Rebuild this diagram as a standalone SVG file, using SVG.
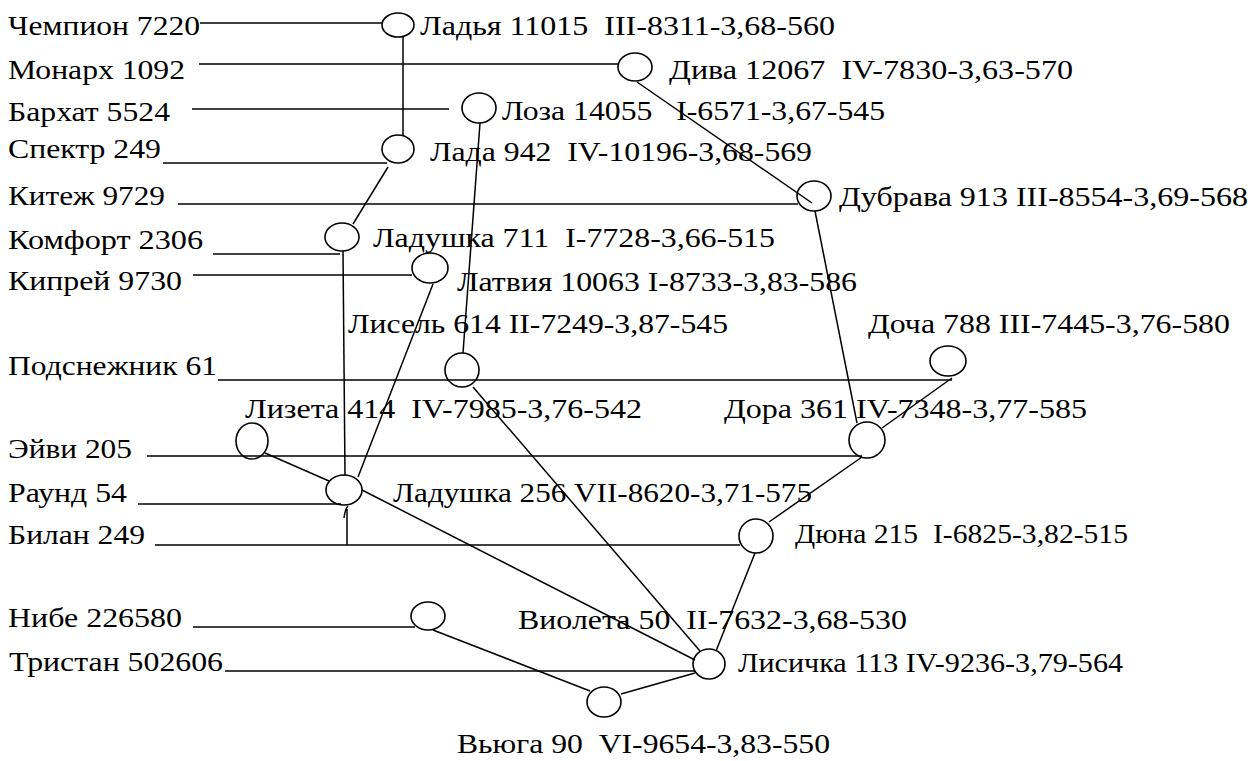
<svg xmlns="http://www.w3.org/2000/svg" width="1258" height="761" viewBox="0 0 1258 761">
<style>
text{font-family:"Liberation Serif","Times New Roman",serif;font-size:28px;fill:#000;white-space:pre}
ellipse{fill:none;stroke:#000;stroke-width:1.6}
.c line,.c path{stroke:#000;stroke-width:1.5;fill:none}
</style>
<rect width="1258" height="761" fill="#fff"/>
<g class="c" id="connectors">
<line x1="200" y1="23" x2="383" y2="23"/>
<line x1="403" y1="37" x2="403" y2="136"/>
<line x1="199" y1="64" x2="619" y2="64"/>
<line x1="192" y1="109" x2="449" y2="109"/>
<line x1="163" y1="163" x2="387" y2="163"/>
<line x1="388" y1="167" x2="353" y2="224"/>
<line x1="480" y1="123" x2="463" y2="353"/>
<line x1="637" y1="82" x2="812" y2="203"/>
<line x1="178" y1="204" x2="798" y2="204"/>
<line x1="213" y1="254" x2="340" y2="254"/>
<line x1="343" y1="251" x2="345" y2="475"/>
<line x1="193" y1="275" x2="412" y2="275"/>
<line x1="433" y1="284" x2="358" y2="477"/>
<line x1="815" y1="211" x2="857" y2="423"/>
<line x1="218" y1="380" x2="952" y2="380"/>
<line x1="952" y1="378" x2="882" y2="428"/>
<line x1="473" y1="387" x2="700" y2="651"/>
<line x1="147" y1="456" x2="862" y2="456"/>
<line x1="862" y1="457" x2="769" y2="522"/>
<line x1="265" y1="453" x2="329" y2="481"/>
<line x1="138" y1="504" x2="341" y2="504"/>
<line x1="362" y1="490" x2="695" y2="660"/>
<path d="M344 518 Q345 509 348 506 M347 509 L347 545"/>
<line x1="155" y1="545" x2="740" y2="545"/>
<line x1="755" y1="553" x2="716" y2="651"/>
<line x1="193" y1="627" x2="415" y2="627"/>
<line x1="433" y1="630" x2="590" y2="691"/>
<line x1="225" y1="671" x2="695" y2="671"/>
<line x1="621" y1="694" x2="695" y2="673"/>
</g>
<g id="n-chempion"><text x="8" y="35" textLength="192" lengthAdjust="spacingAndGlyphs">Чемпион 7220</text></g>
<g id="n-monarkh"><text x="8" y="79" textLength="177" lengthAdjust="spacingAndGlyphs">Монарх 1092</text></g>
<g id="n-barkhat"><text x="8" y="121" textLength="162" lengthAdjust="spacingAndGlyphs">Бархат 5524</text></g>
<g id="n-spektr"><text x="8" y="158" textLength="153" lengthAdjust="spacingAndGlyphs">Спектр 249</text></g>
<g id="n-kitezh"><text x="8" y="205" textLength="157" lengthAdjust="spacingAndGlyphs">Китеж 9729</text></g>
<g id="n-komfort"><text x="8" y="249" textLength="195" lengthAdjust="spacingAndGlyphs">Комфорт 2306</text></g>
<g id="n-kiprey"><text x="8" y="290" textLength="174" lengthAdjust="spacingAndGlyphs">Кипрей 9730</text></g>
<g id="n-podsnezhnik"><text x="8" y="375" textLength="209" lengthAdjust="spacingAndGlyphs">Подснежник 61</text></g>
<g id="n-eyvi"><text x="8" y="458" textLength="124" lengthAdjust="spacingAndGlyphs">Эйви 205</text></g>
<g id="n-raund"><text x="8" y="502" textLength="119" lengthAdjust="spacingAndGlyphs">Раунд 54</text></g>
<g id="n-bilan"><text x="8" y="544" textLength="137" lengthAdjust="spacingAndGlyphs">Билан 249</text></g>
<g id="n-nibe"><text x="8" y="627" textLength="174" lengthAdjust="spacingAndGlyphs">Нибе 226580</text></g>
<g id="n-tristan"><text x="9" y="671" textLength="214" lengthAdjust="spacingAndGlyphs">Тристан 502606</text></g>
<g id="n-ladya"><ellipse cx="398" cy="25" rx="16" ry="12"/><text x="420" y="35" textLength="415" lengthAdjust="spacingAndGlyphs">Ладья 11015  III-8311-3,68-560</text></g>
<g id="n-diva"><ellipse cx="635" cy="67" rx="17" ry="14"/><text x="669" y="79" textLength="404" lengthAdjust="spacingAndGlyphs">Дива 12067  IV-7830-3,63-570</text></g>
<g id="n-loza"><ellipse cx="479" cy="108" rx="17" ry="15"/><text x="502" y="120" textLength="383" lengthAdjust="spacingAndGlyphs">Лоза 14055   I-6571-3,67-545</text></g>
<g id="n-lada"><ellipse cx="398" cy="149" rx="16" ry="14"/><text x="430" y="161" textLength="382" lengthAdjust="spacingAndGlyphs">Лада 942  IV-10196-3,68-569</text></g>
<g id="n-dubrava"><ellipse cx="814" cy="196" rx="17" ry="15"/><text x="839" y="206" textLength="409" lengthAdjust="spacingAndGlyphs">Дубрава 913 III-8554-3,69-568</text></g>
<g id="n-ladushka711"><ellipse cx="342" cy="237" rx="17" ry="14"/><text x="373" y="247" textLength="402" lengthAdjust="spacingAndGlyphs">Ладушка 711  I-7728-3,66-515</text></g>
<g id="n-latviya"><ellipse cx="430" cy="268" rx="18" ry="15"/><text x="457" y="291" textLength="400" lengthAdjust="spacingAndGlyphs">Латвия 10063 I-8733-3,83-586</text></g>
<g id="n-lisel"><ellipse cx="462" cy="370" rx="17" ry="17"/><text x="348" y="333" textLength="380" lengthAdjust="spacingAndGlyphs">Лисель 614 II-7249-3,87-545</text></g>
<g id="n-docha"><ellipse cx="948" cy="361" rx="18" ry="15"/><text x="868" y="333" textLength="362" lengthAdjust="spacingAndGlyphs">Доча 788 III-7445-3,76-580</text></g>
<g id="n-lizeta"><ellipse cx="252" cy="441" rx="16" ry="18"/><text x="245" y="418" textLength="397" lengthAdjust="spacingAndGlyphs">Лизета 414  IV-7985-3,76-542</text></g>
<g id="n-dora"><ellipse cx="867" cy="440" rx="18" ry="18"/><text x="724" y="418" textLength="363" lengthAdjust="spacingAndGlyphs">Дора 361 IV-7348-3,77-585</text></g>
<g id="n-ladushka256"><ellipse cx="344" cy="490" rx="18" ry="15"/><text x="393" y="502" textLength="419" lengthAdjust="spacingAndGlyphs">Ладушка 256 VII-8620-3,71-575</text></g>
<g id="n-dyuna"><ellipse cx="756" cy="536" rx="17" ry="17"/><text x="795" y="543" textLength="333" lengthAdjust="spacingAndGlyphs">Дюна 215  I-6825-3,82-515</text></g>
<g id="n-nibe-node"><ellipse cx="428" cy="616" rx="17" ry="14"/></g>
<g id="n-violeta"><text x="518" y="629" textLength="389" lengthAdjust="spacingAndGlyphs">Виолета 50  II-7632-3,68-530</text></g>
<g id="n-lisichka"><ellipse cx="709" cy="664" rx="16" ry="15"/><text x="738" y="672" textLength="385" lengthAdjust="spacingAndGlyphs">Лисичка 113 IV-9236-3,79-564</text></g>
<g id="n-vyuga"><ellipse cx="604" cy="702" rx="17" ry="15"/><text x="457" y="753" textLength="373" lengthAdjust="spacingAndGlyphs">Вьюга 90  VI-9654-3,83-550</text></g>
</svg>
